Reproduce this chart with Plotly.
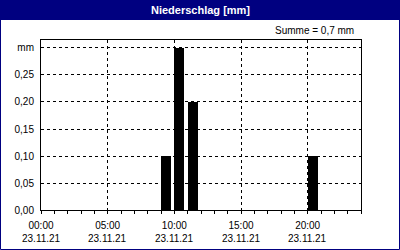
import plotly.graph_objects as go

# Data
hours = [9, 10, 11, 20]
precip = [0.10, 0.30, 0.20, 0.10]
x_tickvals = [0, 5, 10, 15, 20]
x_ticktext = ["00:00", "05:00", "10:00", "15:00", "20:00"]
x_datetext = ["23.11.21", "23.11.21", "23.11.21", "23.11.21", "23.11.21"]
y_tickvals = [0, 0.05, 0.10, 0.15, 0.20, 0.25, 0.30]
y_ticktext = ["0,00", "0,05", "0,10", "0,15", "0,20", "0,25", "mm"]
title_text = "Niederschlag [mm]"
sum_text = "Summe = 0,7 mm"

W, H = 400, 250
L, R, T, B = 41, 39, 40, 40
PW, PH = W - L - R, H - T - B
NAVY = "#000080"
FONT = "Liberation Sans"

def px(x):
    return (x - L) / PW

def py(y):
    return (H - B - y) / PH

fig = go.Figure()
fig.add_trace(go.Bar(
    x=hours, y=precip, width=0.75, offset=0,
    marker=dict(color="black", line=dict(width=0)),
    hoverinfo="skip",
))

fig.update_layout(
    template="none",
    width=W, height=H,
    margin=dict(l=L, r=R, t=T, b=B, pad=0, autoexpand=False),
    paper_bgcolor="white", plot_bgcolor="white",
    showlegend=False,
    font=dict(family=FONT, size=10, color="black"),
    bargap=0,
)

fig.update_xaxes(
    range=[0, 24], tickvals=x_tickvals, ticktext=x_ticktext,
    showline=True, linecolor="black", linewidth=1, mirror=True,
    showgrid=True, gridcolor="black", gridwidth=1, griddash="3px,3px",
    ticks="outside", ticklen=3, tickcolor="black", tickwidth=1,
    minor=dict(dtick=1, tick0=0, ticks="outside", ticklen=3,
               tickcolor="black", tickwidth=1, showgrid=False),
    zeroline=False, fixedrange=True, automargin=False,
    ticklabelstandoff=3,
    tickfont=dict(family=FONT, size=10, color="black"),
)
fig.update_yaxes(
    range=[0, 0.3148], tickvals=y_tickvals, ticktext=y_ticktext,
    showline=True, linecolor="black", linewidth=1, mirror=True,
    showgrid=True, gridcolor="black", gridwidth=1, griddash="3px,3px",
    ticks="", zeroline=False, fixedrange=True, automargin=False,
    ticklabelstandoff=4,
    tickfont=dict(family=FONT, size=10, color="black"),
)

# Date line under the time tick labels
for xv, dt in zip(x_tickvals, x_datetext):
    fig.add_annotation(text=dt, xref="x", yref="paper", x=xv, y=py(238),
                       xanchor="center", yanchor="middle", showarrow=False,
                       font=dict(family=FONT, size=10, color="black"))

# Title bar and outer border
fig.add_shape(type="rect", xref="paper", yref="paper",
              x0=px(0), x1=px(W), y0=py(20), y1=py(0),
              fillcolor=NAVY, line=dict(width=0), layer="below")
fig.add_shape(type="rect", xref="paper", yref="paper",
              x0=px(0.5), x1=px(W - 0.5), y0=py(H - 0.5), y1=py(0.5),
              fillcolor="rgba(0,0,0,0)", line=dict(color=NAVY, width=1))

fig.add_annotation(text="<b>" + title_text + "</b>", xref="paper", yref="paper",
                   x=px(200), y=py(10), xanchor="center", yanchor="middle",
                   showarrow=False, font=dict(family=FONT, size=11, color="white"))
fig.add_annotation(text=sum_text, xref="paper", yref="paper",
                   x=px(356), y=py(31), xanchor="right", yanchor="middle",
                   showarrow=False, font=dict(family=FONT, size=10, color="black"))

fig.write_html("out.html")
